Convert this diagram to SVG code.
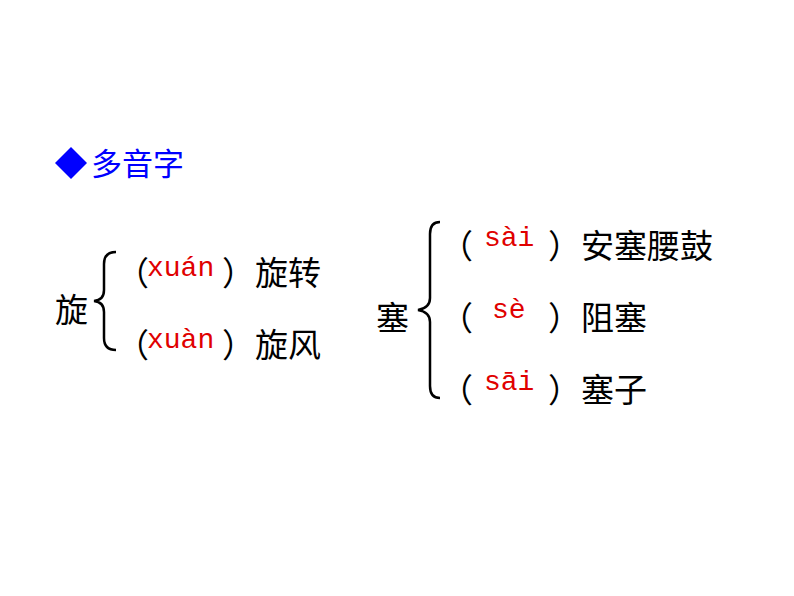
<svg xmlns="http://www.w3.org/2000/svg" width="794" height="596" viewBox="0 0 794 596">
<style>
.c{font-family:"Liberation Serif","Noto Sans CJK SC",serif;font-size:33px;fill:#000}
.p{font-family:"Liberation Mono","DejaVu Sans Mono",monospace;font-size:28px;fill:#e00000}
.b{fill:none;stroke:#000;stroke-width:2.5}
</style>
<rect width="794" height="596" fill="#fff"/>
<g id="title">
<polygon points="71,147 87,163 71,179 55,163" fill="#0000ff"/>
<text x="91" y="175" font-family="Noto Sans CJK SC,sans-serif" font-size="31" fill="#0000ff">多音字</text>
</g>
<g id="xuan">
<text class="c" x="55" y="322">旋</text>
<text class="c" x="116" y="285">（</text><text class="p" x="147" y="276">xuán</text><text class="c" x="222" y="285">）旋转</text>
<text class="c" x="116" y="357">（</text><text class="p" x="147" y="348">xuàn</text><text class="c" x="222" y="357">）旋风</text>
</g>
<g id="sai">
<text class="c" x="376" y="330">塞</text>
<text class="c" x="440" y="258">（</text><text class="p" x="484" y="246">sài</text><text class="c" x="548" y="258">）安塞腰鼓</text>
<text class="c" x="440" y="330">（</text><text class="p" x="492" y="318">sè</text><text class="c" x="548" y="330">）阻塞</text>
<text class="c" x="440" y="402">（</text><text class="p" x="484" y="390">sāi</text><text class="c" x="548" y="402">）塞子</text>
</g>
<g id="connectors">
<path class="b" d="M116,252 Q104,252 104,264 L104,290 Q104,300 94,301 Q104,302 104,312 L104,338 Q104,350 116,350"/>
<path class="b" d="M440,222 Q430,222 430,234 L430,298 Q430,308 418,310 Q430,312 430,322 L430,386 Q430,398 440,398"/>
</g>
</svg>
